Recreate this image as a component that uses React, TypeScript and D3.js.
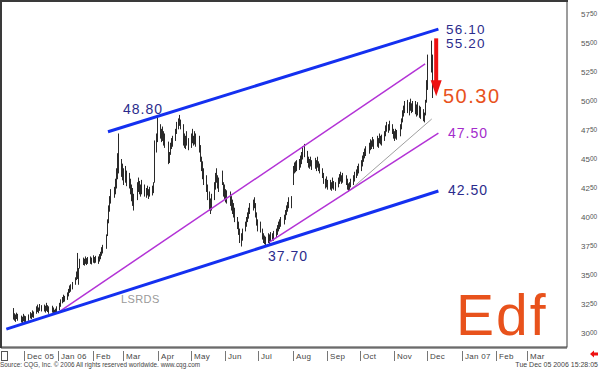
import React from "react";
import * as d3 from "d3";

const W = 600;
const H = 370;

// Daily bar highs (trading days from Mon 21 Nov 2005 to Tue 5 Dec 2006)
const highs = [
  3215, 3170, 3160, 3175, 3165,
  3150, 3140, 3165, 3150, 3145,
  3160, 3180, 3170, 3195, 3185,
  3230, 3245, 3220, 3250, 3240,
  3245, 3235, 3260, 3240, 3230,
  3235, 3220, 3200, 3210, 3230,
  3260, 3290, 3310, 3330, 3320,
  3350, 3380, 3410, 3420, 3440,
  3480, 3530, 3690, 3560, 3640,
  3650, 3640, 3660, 3645, 3655,
  3660, 3650, 3670, 3655, 3665,
  3660, 3680, 3700, 3740, 3760,
  3850, 3980, 4100, 4180, 4240,
  4260, 4330, 4420, 4550, 4720,
  4500, 4460, 4420, 4440, 4400,
  4380, 4330, 4280, 4250, 4200,
  4300, 4340, 4310, 4280, 4320,
  4280, 4250, 4270, 4240, 4260,
  4270, 4300, 4660, 4720, 4860,
  4800, 4760, 4780, 4740, 4720,
  4650, 4560, 4640, 4680, 4700,
  4760, 4820, 4850, 4880, 4840,
  4800, 4720, 4700, 4740, 4680,
  4720, 4760, 4700, 4740, 4720,
  4700, 4620, 4520, 4480, 4420,
  4360, 4280, 4220, 4160, 4200,
  4300, 4380, 4420, 4360, 4340,
  4400, 4300, 4280, 4240, 4230,
  4220, 4180, 4150, 4120, 4080,
  4000, 3960, 3900, 3860, 3900,
  3960, 4000, 4040, 4080, 4120,
  4150, 4170, 4120, 4040, 3980,
  3960, 3900, 3860, 3840, 3830,
  3860, 3850, 3870, 3860, 3880,
  3900, 3930, 3960, 3980, 4000,
  4020, 4060, 4100, 4130, 4170,
  4180, 4440, 4470, 4480, 4490,
  4500, 4530, 4560, 4610, 4630,
  4570, 4520, 4500, 4520, 4490,
  4510, 4490, 4520, 4480, 4460,
  4420, 4380, 4330, 4350, 4320,
  4320, 4300, 4340, 4310, 4300,
  4340, 4370, 4390, 4360, 4380,
  4360, 4330, 4290, 4300, 4330,
  4360, 4390, 4410, 4440, 4460,
  4490, 4530, 4560, 4590, 4610,
  4640, 4670, 4660, 4690, 4670,
  4700, 4680, 4720, 4700, 4710,
  4740, 4790, 4820, 4800, 4830,
  4800, 4760, 4740, 4760, 4750,
  4800, 4850, 4920, 4960, 5000,
  5010, 4990, 5020, 4980, 5000,
  5000, 4970, 4990, 4960, 4950,
  4930, 4900, 5010, 5180, 5400,
  5520, 5400,
];

const lows = [
  3120, 3110, 3100, 3125, 3110,
  3095, 3090, 3105, 3100, 3095,
  3110, 3130, 3125, 3140, 3135,
  3170, 3185, 3175, 3195, 3190,
  3190, 3180, 3195, 3185, 3170,
  3180, 3165, 3160, 3175, 3185,
  3200, 3230, 3260, 3270, 3275,
  3290, 3320, 3350, 3360, 3380,
  3420, 3460, 3470, 3420, 3560,
  3590, 3585, 3600, 3590, 3600,
  3600, 3595, 3610, 3605, 3610,
  3600, 3620, 3640, 3670, 3690,
  3730, 3840, 3950, 4050, 4120,
  4170, 4200, 4250, 4330, 4380,
  4350, 4320, 4280, 4300, 4270,
  4250, 4200, 4140, 4100, 4060,
  4150, 4220, 4200, 4180, 4200,
  4180, 4170, 4190, 4160, 4180,
  4190, 4210, 4300, 4560, 4650,
  4680, 4650, 4660, 4620, 4600,
  4460, 4470, 4540, 4590, 4610,
  4660, 4720, 4760, 4790, 4760,
  4620, 4600, 4590, 4620, 4580,
  4600, 4640, 4620, 4630, 4610,
  4560, 4480, 4400, 4330, 4280,
  4220, 4150, 4060, 4030, 4060,
  4150, 4240, 4300, 4250, 4220,
  4280, 4180, 4160, 4130, 4120,
  4100, 4060, 4030, 4000, 3960,
  3900, 3850, 3780, 3750, 3800,
  3880, 3920, 3960, 3990, 4030,
  4060, 4080, 4000, 3930, 3880,
  3870, 3810, 3780, 3770, 3760,
  3780, 3770, 3790, 3800, 3800,
  3830, 3850, 3880, 3900, 3920,
  3940, 3980, 4020, 4050, 4080,
  4080, 4280, 4380, 4390, 4400,
  4410, 4430, 4460, 4500, 4520,
  4470, 4430, 4420, 4440, 4410,
  4420, 4400, 4430, 4400, 4380,
  4340, 4290, 4250, 4260, 4240,
  4240, 4230, 4250, 4240, 4230,
  4260, 4290, 4310, 4290, 4300,
  4280, 4240, 4220, 4230, 4260,
  4280, 4310, 4340, 4360, 4380,
  4400, 4440, 4480, 4510, 4530,
  4550, 4580, 4590, 4610, 4590,
  4610, 4600, 4640, 4630, 4620,
  4660, 4700, 4740, 4730, 4750,
  4720, 4680, 4660, 4680, 4670,
  4700, 4760, 4820, 4870, 4900,
  4900, 4880, 4920, 4900, 4910,
  4890, 4870, 4880, 4860, 4850,
  4830, 4820, 4880, 4990, 5100,
  5250, 5030,
];

const monthLabels = [
  "Dec 05", "Jan 06", "Feb", "Mar", "Apr", "May", "Jun", "Jul",
  "Aug", "Sep", "Oct", "Nov", "Dec", "Jan 07", "Feb", "Mar",
];

const priceTicks = [3000, 3250, 3500, 3750, 4000, 4250, 4500, 4750, 5000, 5250, 5500, 5750];

// Trend lines: [start date, start price, end date, end price]
const upperResistance = [new Date(2005, 11, 1 + 76), 4735, new Date(2005, 11, 1 + 375), 5620] as const;
const lowerSupport = [new Date(2005, 10, 15), 3034, new Date(2005, 11, 1 + 375), 4224] as const;
const channelUpper = [new Date(2005, 11, 31), 3172, new Date(2006, 10, 29), 5319] as const;
const channelLower = [new Date(2006, 6, 11), 3784, new Date(2005, 11, 1 + 375), 4724] as const;
const shortTrend = [new Date(2006, 8, 20), 4216, new Date(2006, 11, 5), 4845] as const;

// Arrow: from price to price
const arrowFrom = 5540;
const arrowTo = 5040;

const NAVY = "#2b2b8c";
const ORANGE = "#e8521c";
const PURPLE = "#a42ccc";
const BLUE = "#1430f0";
const MAGENTA = "#b333d6";

export default function App() {
  const x = d3
    .scaleTime()
    .domain([new Date(2005, 11, 1), new Date(2007, 2, 1)])
    .range([24, 526.8]);
  const y = d3.scaleLinear().domain([3000, 5750]).range([333, 14]);

  const n = Math.min(highs.length, lows.length);
  const bars = d3.range(n).map((i) => ({
    date: new Date(2005, 10, 21 + Math.floor(i / 5) * 7 + (i % 5)),
    high: highs[i],
    low: lows[i],
  }));

  const months = d3.timeMonth.range(new Date(2005, 11, 1), new Date(2007, 2, 2));

  const line = (l: readonly [Date, number, Date, number], color: string, w: number, key: string) => (
    <line
      key={key}
      x1={x(l[0])}
      y1={y(l[1])}
      x2={x(l[2])}
      y2={y(l[3])}
      stroke={color}
      strokeWidth={w}
      strokeLinecap="butt"
    />
  );

  const ax = x(new Date(2006, 11, 9));
  const aTop = y(arrowFrom);
  const aTip = y(arrowTo);

  const font = "'Liberation Sans', Arial, sans-serif";

  return (
    <svg
      width={W}
      height={H}
      style={{ position: "absolute", left: 0, top: 0, background: "#fff" }}
      fontFamily={font}
    >
      <rect x={0} y={0} width={W} height={H} fill="#fff" />
      {/* plot frame */}
      <rect x={1} y={1} width={566} height={346} fill="#fff" stroke="#3a3a3a" strokeWidth={1} />
      <line x1={0} y1={1} x2={568} y2={1} stroke="#3a3a3a" strokeWidth={2} />
      <line x1={1} y1={0} x2={1} y2={348} stroke="#3a3a3a" strokeWidth={2} />

      {/* bars */}
      <g stroke="#2a2a2a" strokeWidth={1}>
        {bars.map((b, i) => {
          const bx = Math.round(x(b.date)) + 0.5;
          return <line key={i} x1={bx} x2={bx} y1={y(b.high)} y2={y(b.low) + 0.5} />;
        })}
      </g>

      {/* trend lines */}
      {line(shortTrend, "#a0a0a0", 1, "st")}
      {line(channelUpper, MAGENTA, 1.5, "cu")}
      {line(channelLower, MAGENTA, 1.5, "cl")}
      {line(upperResistance, BLUE, 3, "ur")}
      {line(lowerSupport, BLUE, 3, "ls")}

      {/* red arrow */}
      <rect x={ax - 2} y={aTop} width={4} height={aTip - aTop - 15} fill="#ee1111" />
      <polygon
        points={`${ax - 5.5},${aTip - 16} ${ax + 5.5},${aTip - 16} ${ax},${aTip}`}
        fill="#ee1111"
      />

      {/* annotations */}
      <g fontSize={14} letterSpacing={1}>
        <text x={446} y={34} fill={NAVY} fontSize={13.5} letterSpacing={1.2}>56.10</text>
        <text x={446} y={47.5} fill={NAVY} fontSize={13.5} letterSpacing={1.2}>55.20</text>
        <text x={448} y={137.5} fill={PURPLE}>47.50</text>
        <text x={448} y={195} fill={NAVY}>42.50</text>
        <text x={123} y={114} fill={NAVY}>48.80</text>
        <text x={268} y={260.5} fill={NAVY}>37.70</text>
      </g>
      <text x={443} y={103} fill={ORANGE} fontSize={20} letterSpacing={1.5}>50.30</text>
      <text x={121} y={303} fill="#9a9a9a" fontSize={11} letterSpacing={0.4}>LSRDS</text>
      <text x={456} y={335} fill={ORANGE} fontSize={57} letterSpacing={2}>Edf</text>

      {/* right price axis */}
      <g fill="#555" fontSize={8}>
        {priceTicks.map((p) => {
          const s = String(p);
          return (
            <text key={p} x={581} y={y(p) + 3}>
              {s.slice(0, 2)}
              <tspan fontSize={6.5} dy={-1}>{s.slice(2)}</tspan>
            </text>
          );
        })}
      </g>

      {/* date axis */}
      <line x1={1} y1={348} x2={567} y2={348} stroke="#3a3a3a" strokeWidth={1} />
      <rect x={1.5} y={351.5} width={6} height={9} fill="none" stroke="#555" strokeWidth={1} />
      <g fontSize={8} fill="#444">
        {months.map((m, i) => {
          const mx = Math.round(x(m)) + 0.5;
          return (
            <g key={i}>
              <line x1={mx} x2={mx} y1={351} y2={361} stroke="#777" strokeWidth={1} />
              <text x={mx + 2.5} y={358.5} letterSpacing={0.3}>{monthLabels[i]}</text>
            </g>
          );
        })}
      </g>
      <polygon points="590,354 594,350.5 594,352.5 598,352.5 598,355.5 594,355.5 594,357.5" fill="#ee1111" />

      {/* footer */}
      <text x={0} y={366.5} fontSize={7} fill="#444" textLength={200} lengthAdjust="spacingAndGlyphs">
        Source: CQG, Inc. © 2006 All rights reserved worldwide. www.cqg.com
      </text>
      <text x={598} y={366.5} fontSize={7} fill="#444" textAnchor="end">
        Tue Dec 05 2006 15:28:05
      </text>
    </svg>
  );
}
